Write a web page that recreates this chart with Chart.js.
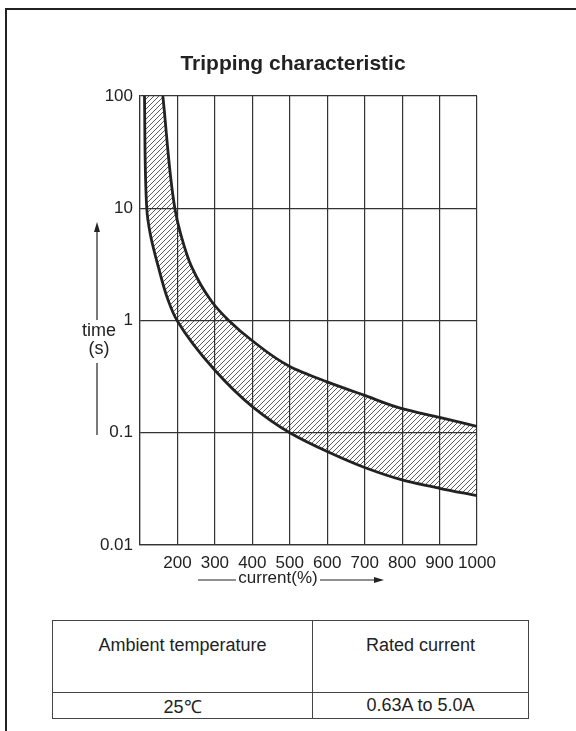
<!DOCTYPE html>
<html>
<head>
<meta charset="utf-8">
<script src="https://cdn.jsdelivr.net/npm/chart.js@4"></script>
<style>
  html, body { margin: 0; padding: 0; background: #fff; }
  body { width: 576px; height: 731px; position: relative; overflow: hidden;
         font-family: "Liberation Sans", Arial, sans-serif; color: #222; }
  #frame { position: absolute; left: 5px; top: 8px; width: 600px; height: 760px;
           border-top: 2px solid #222; border-left: 2px solid #222; }
  #wrap { position: absolute; left: 0; top: 0; width: 576px; height: 600px; }
  table { position: absolute; left: 52px; top: 620px; width: 477px; height: 97px;
          border-collapse: collapse; font-size: 18px; color: #222; }
  td { border: 1.5px solid #444; text-align: center; padding: 0; }
  tr.head td { height: 72px; vertical-align: top; padding-top: 14px; box-sizing: border-box; }
  tr.vals td { height: 25px; vertical-align: middle; }
</style>
</head>
<body>
<div id="frame"></div>
<div id="wrap"><canvas id="chart" width="576" height="600"></canvas></div>
<table>
  <tr class="head"><td style="width:260px">Ambient temperature</td><td>Rated current</td></tr>
  <tr class="vals"><td>25℃</td><td>0.63A to 5.0A</td></tr>
</table>
<script>
// tripping curves
const lowerCurrent = [112, 118, 127, 149, 175, 199, 300, 400, 500, 600, 700, 800, 900, 1000];
const lowerTime = [100, 10, 6.0, 3.0, 1.52, 1.0, 0.36, 0.171, 0.10, 0.068, 0.049, 0.038, 0.032, 0.0275];
const upperCurrent = [161, 193, 208, 238, 290, 337, 400, 500, 600, 700, 800, 900, 1000];
const upperTime = [100, 10, 6.0, 3.0, 1.5, 1.0, 0.66, 0.39, 0.284, 0.215, 0.164, 0.137, 0.114];

const timeTicks = [0.01, 0.1, 1, 10, 100];
const timeLabels = ["0.01", "0.1", "1", "10", "100"];
const currentMin = 100;
const currentMax = 1000;

const FONT = '"Liberation Sans", Arial, sans-serif';
const INK = "#222";

function toPoints(xs, ys) {
  return xs.map((x, i) => ({ x, y: ys[i] }));
}

function hatchPattern(ctx) {
  const c = document.createElement("canvas");
  const s = 5;
  c.width = s; c.height = s;
  const g = c.getContext("2d");
  g.strokeStyle = "#333";
  g.lineWidth = 0.8;
  g.beginPath();
  g.moveTo(-1, s + 1); g.lineTo(s + 1, -1);
  g.moveTo(-1, 1); g.lineTo(1, -1);
  g.moveTo(s - 1, s + 1); g.lineTo(s + 1, s - 1);
  g.stroke();
  return ctx.createPattern(c, "repeat");
}

// fills the band between the two curves, using the library's own point positions
const bandFill = {
  id: "bandFill",
  beforeDatasetsDraw(chart) {
    const m0 = chart.getDatasetMeta(0);
    const m1 = chart.getDatasetMeta(1);
    m0.dataset.updateControlPoints(chart.chartArea, m0.iScale.axis);
    m1.dataset.updateControlPoints(chart.chartArea, m1.iScale.axis);
    const lo = m0.data;
    const up = m1.data;
    const { ctx, chartArea: a } = chart;
    ctx.save();
    ctx.beginPath();
    ctx.rect(a.left, a.top, a.right - a.left, a.bottom - a.top);
    ctx.clip();
    ctx.beginPath();
    ctx.moveTo(lo[0].x, lo[0].y);
    for (let i = 1; i < lo.length; i++) {
      ctx.bezierCurveTo(lo[i - 1].cp2x, lo[i - 1].cp2y, lo[i].cp1x, lo[i].cp1y, lo[i].x, lo[i].y);
    }
    const n = up.length - 1;
    ctx.lineTo(up[n].x, up[n].y);
    for (let i = n; i > 0; i--) {
      ctx.bezierCurveTo(up[i].cp1x, up[i].cp1y, up[i - 1].cp2x, up[i - 1].cp2y, up[i - 1].x, up[i - 1].y);
    }
    ctx.closePath();
    ctx.fillStyle = hatchPattern(ctx);
    ctx.fill();
    ctx.restore();
  },
};

// title and the arrowed axis captions
const captions = {
  id: "captions",
  afterDraw(chart) {
    const { ctx } = chart;
    ctx.save();
    ctx.fillStyle = INK;
    ctx.strokeStyle = INK;
    ctx.textAlign = "center";
    ctx.textBaseline = "alphabetic";
    ctx.font = `bold 21px ${FONT}`;
    ctx.fillText("Tripping characteristic", 293, 70);

    // y caption
    ctx.font = `18px ${FONT}`;
    ctx.textBaseline = "middle";
    ctx.fillText("time", 99, 331);
    ctx.fillText("(s)", 99, 349);
    ctx.lineWidth = 1.2;
    ctx.beginPath();
    ctx.moveTo(97, 230); ctx.lineTo(97, 320);
    ctx.moveTo(97, 363); ctx.lineTo(97, 435);
    ctx.stroke();
    ctx.beginPath();
    ctx.moveTo(97, 222); ctx.lineTo(94, 232); ctx.lineTo(100, 232);
    ctx.closePath(); ctx.fill();

    // x caption
    ctx.font = `17px ${FONT}`;
    ctx.fillText("current(%)", 278, 578);
    ctx.beginPath();
    ctx.moveTo(198, 580); ctx.lineTo(236, 580);
    ctx.moveTo(320, 580); ctx.lineTo(376, 580);
    ctx.stroke();
    ctx.beginPath();
    ctx.moveTo(384, 580); ctx.lineTo(374, 577); ctx.lineTo(374, 583);
    ctx.closePath(); ctx.fill();
    ctx.restore();
  },
};

const curveStyle = {
  borderColor: INK,
  borderWidth: 2.8,
  pointRadius: 0,
  cubicInterpolationMode: "monotone",
  fill: false,
};

new Chart(document.getElementById("chart"), {
  type: "line",
  data: {
    datasets: [
      { label: "min", data: toPoints(lowerCurrent, lowerTime), ...curveStyle },
      { label: "max", data: toPoints(upperCurrent, upperTime), ...curveStyle },
    ],
  },
  options: {
    indexAxis: "y",
    responsive: false,
    animation: false,
    layout: { padding: { left: 0, right: 99, top: 96, bottom: 15 } },
    plugins: { legend: { display: false }, tooltip: { enabled: false }, title: { display: false } },
    scales: {
      x: {
        type: "linear",
        position: "bottom",
        min: currentMin,
        max: currentMax,
        afterFit: (s) => { s.height = 40; },
        grid: { color: "#333", lineWidth: 1.2, drawTicks: false },
        border: { color: "#333", width: 1.2 },
        ticks: {
          stepSize: 100,
          autoSkip: false,
          maxRotation: 0,
          padding: 8,
          color: INK,
          font: { family: FONT, size: 17 },
          callback: (v) => (v === currentMin ? "" : String(v)),
        },
      },
      y: {
        type: "logarithmic",
        position: "left",
        min: timeTicks[0],
        max: timeTicks[timeTicks.length - 1],
        afterFit: (s) => { s.width = 140; },
        afterBuildTicks: (s) => { s.ticks = timeTicks.map((v) => ({ value: v })); },
        grid: { color: "#333", lineWidth: 1.2, drawTicks: false },
        border: { color: "#333", width: 1.2 },
        ticks: {
          padding: 7,
          color: INK,
          font: { family: FONT, size: 17 },
          callback: (v) => {
            const i = timeTicks.indexOf(v);
            return i >= 0 ? timeLabels[i] : "";
          },
        },
      },
    },
  },
  plugins: [bandFill, captions],
});
</script>
</body>
</html>
